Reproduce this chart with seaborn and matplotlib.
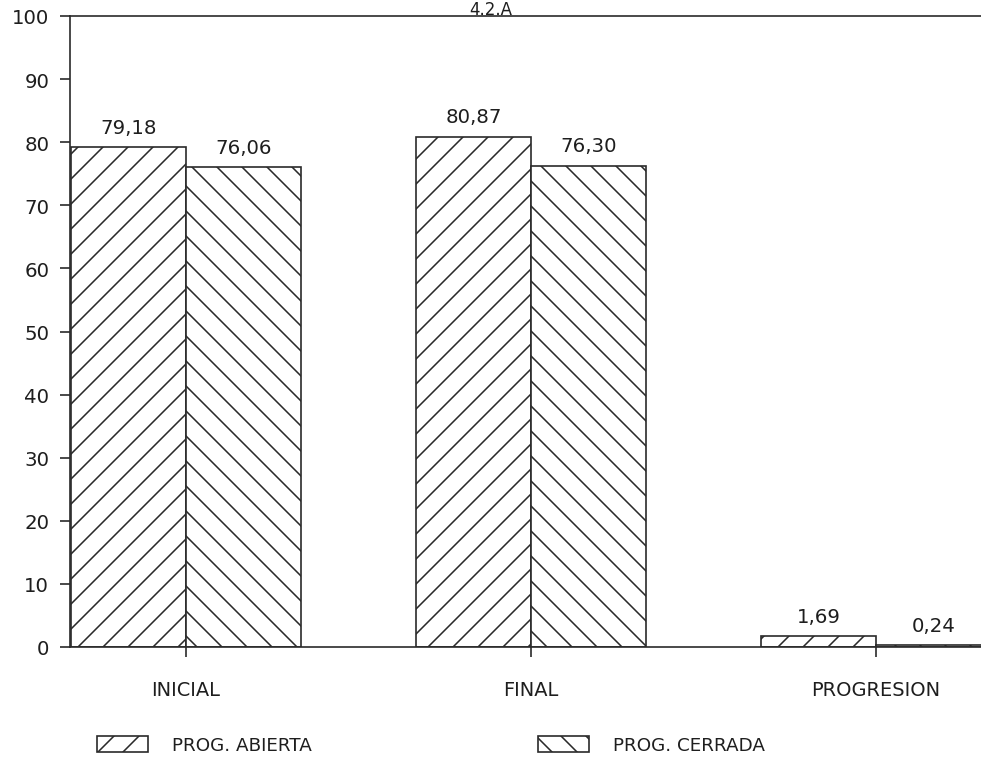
import matplotlib
matplotlib.use("Agg")
import matplotlib.pyplot as plt
from matplotlib.patches import Patch
import seaborn as sns
import pandas as pd

# Data
categories = ["INICIAL", "FINAL", "PROGRESION"]
series_names = ["PROG. ABIERTA", "PROG. CERRADA"]
abierta = [79.18, 80.87, 1.69]
cerrada = [76.06, 76.30, 0.24]
y_ticks = list(range(0, 101, 10))
title = "4.2.A"

df = pd.DataFrame({
    "categoria": categories * 2,
    "serie": [series_names[0]] * 3 + [series_names[1]] * 3,
    "valor": abierta + cerrada,
})

sns.set_theme(style="white")
plt.rcParams["font.family"] = ["DejaVu Sans"]
plt.rcParams["hatch.linewidth"] = 0.75
plt.rcParams["hatch.color"] = "#2a2a2a"

line_col = "#2a2a2a"
text_col = "#1e1e1e"
hatches = ["//", "\\\\"]

fig = plt.figure(figsize=(981 / 150, 759 / 150), dpi=150)
ax = fig.add_axes([70 / 981, 111 / 759, 1 - 70 / 981, (742 - 111) / 759])

sns.barplot(
    data=df, x="categoria", y="valor", hue="serie",
    order=categories, hue_order=series_names,
    palette=["white", "white"], width=2 / 3,
    edgecolor=line_col, linewidth=0.8, saturation=1,
    errorbar=None, legend=False, ax=ax,
)

for container, hatch in zip(ax.containers, hatches):
    for bar in container:
        bar.set_hatch(hatch)
        bar.set_edgecolor(line_col)
    ax.bar_label(
        container,
        labels=[f"{v:.2f}".replace(".", ",") for v in container.datavalues],
        padding=5, fontsize=9.5, color=text_col,
    )

ax.set_ylim(0, 100)
ax.set_xlim(-0.336, 2.304)
ax.set_yticks(y_ticks)
ax.set_xlabel("")
ax.set_ylabel("")

for side in ["left", "bottom", "top"]:
    ax.spines[side].set_visible(True)
    ax.spines[side].set_color(line_col)
    ax.spines[side].set_linewidth(0.8)
ax.spines["right"].set_visible(False)

ax.tick_params(axis="y", which="major", direction="out", length=5, width=0.8,
               color=line_col, pad=5, labelsize=9.5, labelcolor=text_col, left=True)
ax.tick_params(axis="x", which="major", direction="out", length=5, width=0.8,
               color=line_col, pad=11, labelsize=9.3, labelcolor=text_col, bottom=True)

fig.text(0.5, 1 - 1 / 759, title, ha="center", va="top",
         fontsize=8, color=text_col)

handles = [
    Patch(facecolor="white", edgecolor=line_col, linewidth=0.8, hatch=h, label=n)
    for h, n in zip(hatches, series_names)
]
fig.legend(
    handles=handles, loc="center left", bbox_to_anchor=(97 / 981, 13 / 759),
    ncol=2, frameon=False, fontsize=8.8, handlelength=2.8, handleheight=1.0,
    handletextpad=1.3, columnspacing=12.3, borderpad=0, borderaxespad=0,
    labelcolor=text_col,
)

fig.savefig("out.png", dpi=150, facecolor="white")
